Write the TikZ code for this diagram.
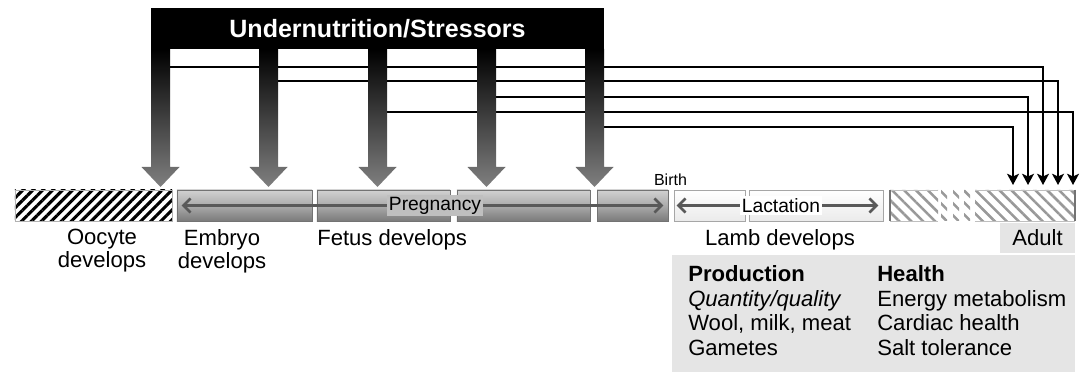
\documentclass[tikz,border=0pt]{standalone}
\usepackage{fontspec}
\setmainfont{Liberation Sans}
\usetikzlibrary{arrows.meta,patterns.meta}

\begin{document}
\begin{tikzpicture}[x=0.025cm, y=-0.025cm, >={Stealth[length=8pt,width=8.5pt,inset=2pt]}]
	\tikzstyle{seg} = [inner sep=0pt, minimum height=0.775cm]
	\tikzstyle{pregbox} = [seg, draw=black!55, top color=black!18, bottom color=black!52, middle color=black!33]
	\tikzstyle{lactbox} = [seg, draw=black!35, top color=white, bottom color=black!8]
	\tikzstyle{stressarrow} = [top color=black, bottom color=black!50]
	\tikzstyle{feed} = [->, line width=1.3pt]
	\tikzstyle{span} = [<->, draw=black!65, line width=1.8pt, >={Straight Barb[length=5pt,width=10pt]}]
	\tikzstyle{txt} = [inner sep=0pt, font=\fontsize{15.7}{16.5}\selectfont]
	\tikzstyle{spantxt} = [inner sep=1.5pt, font=\fontsize{13.7}{15}\selectfont]

	\useasboundingbox (0,0) rectangle (1082,372);

	% lines from each stressor to the adult
	\coordinate (s1) at (160.5,67);
	\coordinate (s2) at (268.5,81);
	\coordinate (s3) at (377.5,112);
	\coordinate (s4) at (486.5,97);
	\coordinate (s5) at (594.5,127);
	\coordinate (t1) at (1043,185);
	\coordinate (t2) at (1058,185);
	\coordinate (t3) at (1073,185);
	\coordinate (t4) at (1028,185);
	\coordinate (t5) at (1013,185);
	\draw[feed] (s1) -| (t1);
	\draw[feed] (s2) -| (t2);
	\draw[feed] (s3) -| (t3);
	\draw[feed] (s4) -| (t4);
	\draw[feed] (s5) -| (t5);

	% stressor arrows
	\shade[stressarrow] (151,49) -- ++(19,0) -- ++(0,118) -- ++(9.5,0) -- ++(-19,20) -- ++(-19,-20) -- ++(9.5,0) -- cycle;
	\shade[stressarrow] (259,49) -- ++(19,0) -- ++(0,118) -- ++(9.5,0) -- ++(-19,20) -- ++(-19,-20) -- ++(9.5,0) -- cycle;
	\shade[stressarrow] (368,49) -- ++(19,0) -- ++(0,118) -- ++(9.5,0) -- ++(-19,20) -- ++(-19,-20) -- ++(9.5,0) -- cycle;
	\shade[stressarrow] (477,49) -- ++(19,0) -- ++(0,118) -- ++(9.5,0) -- ++(-19,20) -- ++(-19,-20) -- ++(9.5,0) -- cycle;
	\shade[stressarrow] (585,49) -- ++(19,0) -- ++(0,118) -- ++(9.5,0) -- ++(-19,20) -- ++(-19,-20) -- ++(9.5,0) -- cycle;

	\node[fill=black, text=white, inner sep=0pt, minimum width=11.325cm, minimum height=1.025cm,
		font=\fontsize{17.8}{20}\selectfont\bfseries] (stress) at (377.5,28.5) {Undernutrition/Stressors};

	% time line
	\node[seg, minimum width=3.925cm, draw=black!30, pattern={Lines[angle=45,distance=5pt,line width=2.2pt]}, pattern color=black] (oocyte) at (93.5,205.5) {};
	\node[pregbox, minimum width=3.375cm] (preg1) at (244.5,205.5) {};
	\node[pregbox, minimum width=3.325cm] (preg2) at (383.5,205.5) {};
	\node[pregbox, minimum width=3.325cm] (preg3) at (523.5,205.5) {};
	\node[pregbox, minimum width=1.775cm] (preg4) at (632.5,205.5) {};
	\node[lactbox, minimum width=1.775cm] (lact1) at (709.5,205.5) {};
	\node[lactbox, minimum width=3.35cm] (lact2) at (816,205.5) {};
	\node[seg, minimum width=4.625cm] (adultbar) at (982.5,205.5) {};
	\fill[pattern={Lines[angle=-45,distance=6pt,line width=1.8pt]}, pattern color=black!40]
		(890,190) rectangle (938,221) (941,190) rectangle (947,221) (953,190) rectangle (959,221)
		(964,190) rectangle (970,221) (975,190) rectangle (1075,221);
	\draw[black!25] (890,190) -- (938,190) (975,190) -- (1075,190) (890,221) -- (938,221) (975,221) -- (1075,221);
	\draw[black!55, line width=1.2pt] (adultbar.north west) -- (adultbar.south west) (adultbar.north east) -- (adultbar.south east);

	\draw[span] ([xshift=0.125cm]preg1.west) -- ([xshift=-0.125cm]preg4.east)
		node[spantxt, pos=0.526, fill=black!25] (pregtxt) {Pregnancy};
	\draw[span] ([xshift=0.075cm]lact1.west) -- ([xshift=-0.125cm]lact2.east)
		node[spantxt, pos=0.517, fill=white] (lacttxt) {Lactation};
	\node[inner sep=0pt, anchor=base, font=\fontsize{11.4}{12}\selectfont] (birth) at (670.5,186) {Birth};

	% labels
	\node[txt, anchor=north, align=center] (oolbl) at (102,229) {Oocyte\\develops};
	\node[txt, anchor=north, align=center] (emblbl) at (222,229) {Embryo\\develops};
	\node[txt, anchor=north west] (fetlbl) at (317,229) {Fetus develops};
	\node[txt, anchor=north] (lamblbl) at (780,229) {Lamb develops};
	\node[txt, fill=black!10, minimum width=1.875cm, minimum height=0.75cm] (adultlbl) at (1037.5,238) {Adult};

	% outcomes
	\node[fill=black!10, inner sep=0pt, anchor=north west, minimum width=10.075cm, minimum height=2.925cm] (outcome) at (672,255) {};
	\node[txt, anchor=north west, align=left, font=\fontsize{15.7}{17.6}\selectfont] (prod) at (688,265)
		{\textbf{Production}\\\textit{Quantity/quality}\\Wool, milk, meat\\Gametes};
	\node[txt, anchor=north west, align=left, font=\fontsize{15.7}{17.6}\selectfont] (health) at (877,265)
		{\textbf{Health}\\Energy metabolism\\Cardiac health\\Salt tolerance};
\end{tikzpicture}
\end{document}
